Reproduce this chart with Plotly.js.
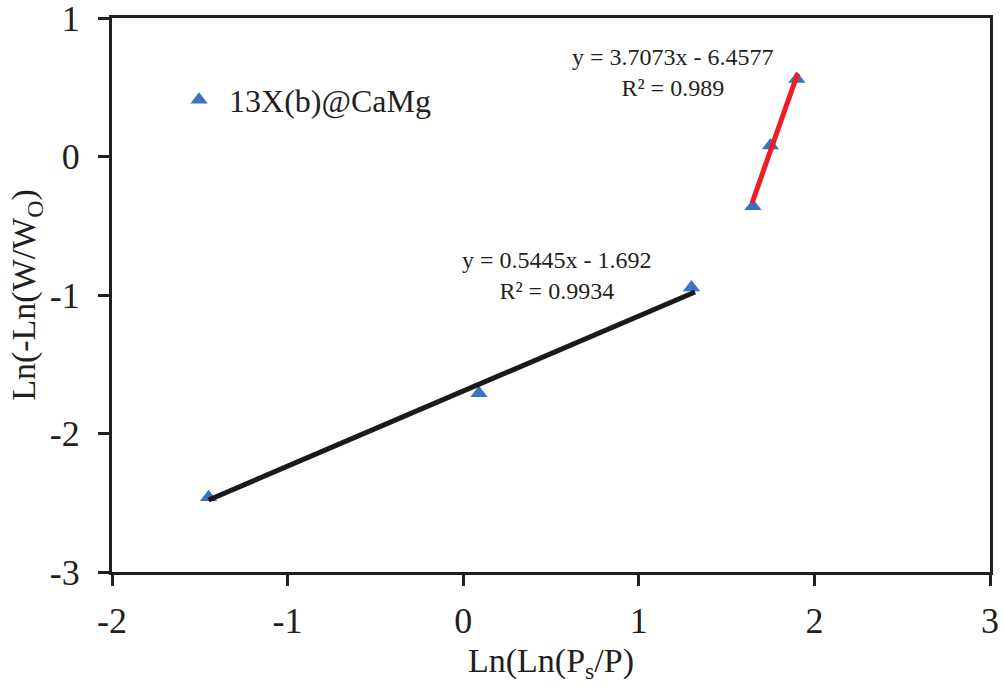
<!DOCTYPE html>
<html>
<head>
<meta charset="utf-8">
<script src="https://cdn.plot.ly/plotly-3.0.1.min.js"></script>
<style>html,body{margin:0;padding:0;background:#fff;}#chart{width:1005px;height:688px;}</style>
</head>
<body>
<div id="chart"></div>
<script>
// Data points
const pointsX = [-1.45, 0.09, 1.30, 1.65, 1.75, 1.90];
const pointsY = [-2.46, -1.71, -0.945, -0.36, 0.08, 0.56];
// Trendline endpoints
const fit1X = [-1.45, 1.32];
const fit1Y = [-2.48, -0.978];
const fit2X = [1.645, 1.905];
const fit2Y = [-0.336, 0.60];
const seriesName = '13X(b)@CaMg';
const eq1 = ['y = 0.5445x - 1.692', 'R² = 0.9934'];
const eq2 = ['y = 3.7073x - 6.4577', 'R² = 0.989'];
const xTicks = [-2, -1, 0, 1, 2, 3];
const yTicks = [-3, -2, -1, 0, 1];

const FONT = 'Liberation Serif, Times New Roman, serif';
const INK = '#231f20';

const traces = [
  {x: pointsX, y: pointsY, type: 'scatter', mode: 'markers', name: seriesName,
   marker: {symbol: 'triangle-up', size: 15, color: '#3a72c2'}},
  {x: fit1X, y: fit1Y, type: 'scatter', mode: 'lines', showlegend: false,
   line: {color: '#1a1a1a', width: 5}},
  {x: fit2X, y: fit2Y, type: 'scatter', mode: 'lines', showlegend: false,
   line: {color: '#ee1c25', width: 5}}
];

const axisCommon = {
  showgrid: false, zeroline: false, showline: true, linecolor: INK, linewidth: 3,
  mirror: true, ticks: 'outside', ticklen: 11, tickwidth: 3, tickcolor: INK,
  ticklabeloverflow: 'allow',
  tickfont: {family: FONT, size: 36, color: INK}
};

const layout = {
  width: 1005, height: 688,
  margin: {l: 112, r: 15, t: 18, b: 116},
  paper_bgcolor: '#fff', plot_bgcolor: '#fff',
  font: {family: FONT, color: INK},
  xaxis: Object.assign({}, axisCommon, {
    range: [-2, 3], tickvals: xTicks, ticktext: xTicks.map(String),
    ticklabelstandoff: 4,
    title: {text: 'Ln(Ln(P<sub>s</sub>/P)', font: {family: FONT, size: 34, color: INK}, standoff: 8}
  }),
  yaxis: Object.assign({}, axisCommon, {
    range: [-3, 1], tickvals: yTicks, ticktext: yTicks.map(String),
    ticklabelstandoff: 11,
    title: {text: 'Ln(-Ln(W/W<sub>O</sub>)', font: {family: FONT, size: 34, color: INK}, standoff: 4}
  }),
  showlegend: true,
  legend: {x: 0.065, y: 0.852, xanchor: 'left', yanchor: 'middle', bgcolor: 'rgba(0,0,0,0)',
           itemwidth: 50, font: {family: FONT, size: 32, color: INK}},
  annotations: [
    {x: 0.535, y: -0.86, xref: 'x', yref: 'y', text: eq1.join('<br>'), showarrow: false,
     font: {family: FONT, size: 24, color: INK}, align: 'center'},
    {x: 1.195, y: 0.61, xref: 'x', yref: 'y', text: eq2.join('<br>'), showarrow: false,
     font: {family: FONT, size: 24, color: INK}, align: 'center'}
  ]
};

Plotly.newPlot('chart', traces, layout, {displayModeBar: false, staticPlot: true});
</script>
</body>
</html>
